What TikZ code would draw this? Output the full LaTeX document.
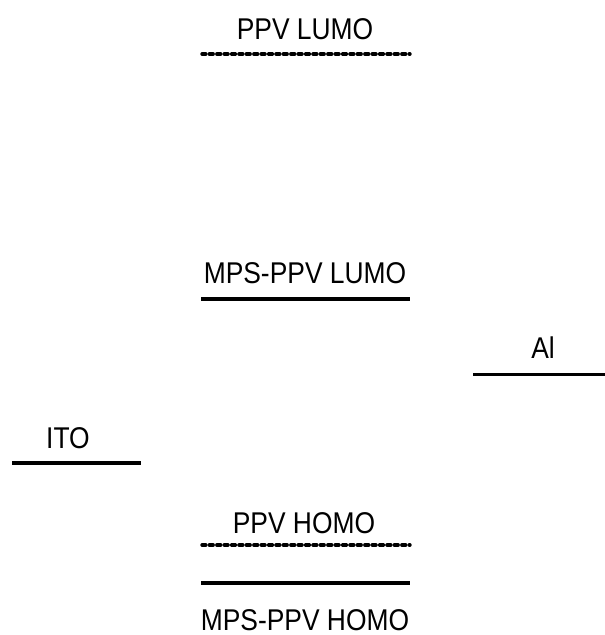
\documentclass[tikz,border=0pt]{standalone}
\usepackage{fontspec}
\setmainfont{Liberation Sans}[FakeStretch=0.88]
\begin{document}
\begin{tikzpicture}[x=1pt,y=-1pt,
  level/.style={line width=3.6pt},
  dashlevel/.style={line width=3.4pt, line cap=round, dash pattern=on 3.8pt off 3.6pt},
  lab/.style={anchor=base, inner sep=0pt, font=\fontsize{30}{32}\selectfont}]
\useasboundingbox (0,0) rectangle (605,635);
% level end points
\coordinate (ppvlumoL) at (202,54);   \coordinate (ppvlumoR) at (410,54);
\coordinate (mpslumoL) at (201,299);  \coordinate (mpslumoR) at (410,299);
\coordinate (alL)      at (473,374);  \coordinate (alR)      at (605,374);
\coordinate (itoL)     at (12,463);   \coordinate (itoR)     at (141,463);
\coordinate (ppvhomoL) at (202,545);  \coordinate (ppvhomoR) at (410,545);
\coordinate (mpshomoL) at (201,583);  \coordinate (mpshomoR) at (410,583);
% energy levels
\draw[dashlevel] (ppvlumoL) -- (ppvlumoR);
\draw[level] (mpslumoL) -- (mpslumoR);
\draw[level, line width=3pt] (alL) -- (alR);
\draw[level] (itoL) -- (itoR);
\draw[dashlevel] (ppvhomoL) -- (ppvhomoR);
\draw[level] (mpshomoL) -- (mpshomoR);
% labels
\node[lab] (tppvlumo) at (305,39) {PPV LUMO};
\node[lab] (tmpslumo) at (305,283) {MPS-PPV LUMO};
\node[lab] (tal) at (543,358) {Al};
\node[lab] (tito) at (68,448) {ITO};
\node[lab] (tppvhomo) at (304,533) {PPV HOMO};
\node[lab] (tmpshomo) at (305,630) {MPS-PPV HOMO};
\end{tikzpicture}
\end{document}
